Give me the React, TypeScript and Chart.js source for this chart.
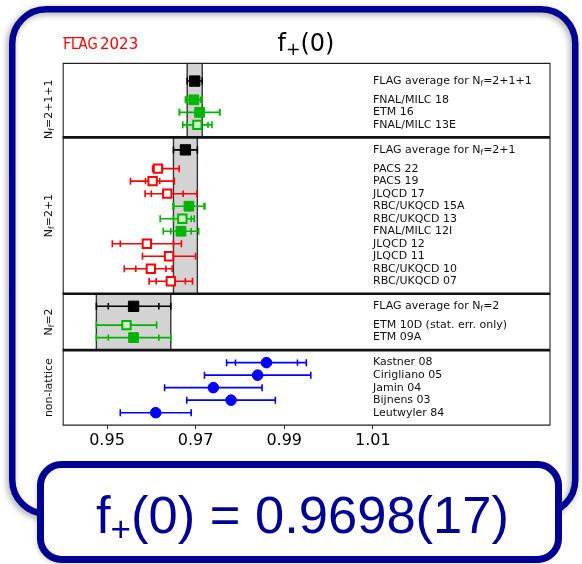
import React, { useEffect, useRef } from "react";
import { Chart, registerables } from "chart.js";
Chart.register(...registerables);

// ---------------- data ----------------
const X_MIN = 0.94;
const X_MAX = 1.05;
const X_TICKS = [0.95, 0.97, 0.99, 1.01];

const TITLE_MAIN = "f";
const TITLE_SUB = "+";
const TITLE_REST = "(0)";
const LOGO_A = "FLAG";
const LOGO_B = "2023";
const RESULT_TEXT = "(0) = 0.9698(17)";

const SECTION_LABELS = ["N_f=2+1+1", "N_f=2+1", "N_f=2", "non-lattice"];

const AVG_LABELS = ["FLAG average for N_f=2+1+1", "FLAG average for N_f=2+1", "FLAG average for N_f=2"];
const AVG_VALUES = [0.9698, 0.9677, 0.956];
const AVG_STAT = [0.0017, 0.0027, 0.0057];
const AVG_ERR = [0.0017, 0.0027, 0.0084];

const S1_LABELS = ["FNAL/MILC 18", "ETM 16", "FNAL/MILC 13E"];
const S1_VALUES = [0.9696, 0.9709, 0.9704];
const S1_STAT = [0.0015, 0.0045, 0.0024];
const S1_ERR_LO = [0.0019, 0.0046, 0.0033];
const S1_ERR_HI = [0.0019, 0.0046, 0.0033];
const S1_QUALITY = ["G", "G", "g"];

const S2_LABELS = ["PACS 22", "PACS 19", "JLQCD 17", "RBC/UKQCD 15A", "RBC/UKQCD 13", "FNAL/MILC 12I", "JLQCD 12", "JLQCD 11", "RBC/UKQCD 10", "RBC/UKQCD 07"];
const S2_VALUES = [0.9615, 0.9603, 0.9636, 0.9685, 0.967, 0.9667, 0.959, 0.964, 0.9599, 0.9644];
const S2_STAT = [0.001, 0.0016, 0.0036, 0.0034, 0.002, 0.0023, 0.006, 0.006, 0.0034, 0.0033];
const S2_ERR_LO = [0.0012, 0.005, 0.005, 0.0036, 0.005, 0.004, 0.0078, 0.006, 0.006, 0.0049];
const S2_ERR_HI = [0.0048, 0.0049, 0.0067, 0.0036, 0.0027, 0.004, 0.0078, 0.006, 0.0048, 0.0049];
const S2_QUALITY = ["R", "R", "R", "G", "g", "G", "R", "R", "R", "R"];

const S3_LABELS = ["ETM 10D (stat. err. only)", "ETM 09A"];
const S3_VALUES = [0.9544, 0.956];
const S3_STAT = [0.0068, 0.0057];
const S3_ERR_LO = [0.0068, 0.0084];
const S3_ERR_HI = [0.0068, 0.0084];
const S3_QUALITY = ["g", "G"];

const S4_LABELS = ["Kastner 08", "Cirigliano 05", "Jamin 04", "Bijnens 03", "Leutwyler 84"];
const S4_VALUES = [0.986, 0.984, 0.974, 0.978, 0.961];
const S4_STAT = [0.007, 0.012, 0.011, 0.01, 0.008];
const S4_ERR_LO = [0.009, 0.012, 0.011, 0.01, 0.008];
const S4_ERR_HI = [0.009, 0.012, 0.011, 0.01, 0.008];
const S4_QUALITY = ["B", "B", "B", "B", "B"];

const SECTIONS = [
  { labels: S1_LABELS, values: S1_VALUES, stat: S1_STAT, lo: S1_ERR_LO, hi: S1_ERR_HI, q: S1_QUALITY, avg: 0 },
  { labels: S2_LABELS, values: S2_VALUES, stat: S2_STAT, lo: S2_ERR_LO, hi: S2_ERR_HI, q: S2_QUALITY, avg: 1 },
  { labels: S3_LABELS, values: S3_VALUES, stat: S3_STAT, lo: S3_ERR_LO, hi: S3_ERR_HI, q: S3_QUALITY, avg: 2 },
  { labels: S4_LABELS, values: S4_VALUES, stat: S4_STAT, lo: S4_ERR_LO, hi: S4_ERR_HI, q: S4_QUALITY, avg: -1 },
];

// ---------------- styling ----------------
const NAVY = "#000092";
const EDGE: Record<string, string> = { K: "#000000", G: "#00b400", g: "#00b400", R: "#ff0000", B: "#0000ff" };
const FILL: Record<string, string> = { K: "#000000", G: "#00b400", g: "#ccf5cc", R: "#ffffff", B: "#0000ff" };
const FONT = '"DejaVu Sans", sans-serif';

type Row = { label: string; v: number; stat: number; lo: number; hi: number; q: string; y: number };
type Sec = { name: string; top: number; bottom: number; avg: Row | null; labelTop: number };

function buildLayout() {
  const rows: Row[] = [];
  const secs: Sec[] = [];
  let cur = 0;
  SECTIONS.forEach((s, gi) => {
    const top = cur;
    let avgRow: Row | null = null;
    let first: number;
    if (s.avg >= 0) {
      const ay = cur + (gi === 0 ? 1.45 : 1.0);
      avgRow = { label: AVG_LABELS[s.avg], v: AVG_VALUES[s.avg], stat: AVG_STAT[s.avg], lo: AVG_ERR[s.avg], hi: AVG_ERR[s.avg], q: "K", y: ay };
      rows.push(avgRow);
      first = ay + 1.5;
    } else {
      first = cur + 1.0;
    }
    s.labels.forEach((l, i) => {
      rows.push({ label: l, v: s.values[i], stat: s.stat[i], lo: s.lo[i], hi: s.hi[i], q: s.q[i], y: first + i });
    });
    const bottom = first + s.labels.length;
    secs.push({ name: SECTION_LABELS[gi], top, bottom, avg: avgRow, labelTop: gi === 0 && avgRow ? avgRow.y : top });
    cur = bottom;
  });
  return { rows, secs, total: cur };
}

function parts(text: string) {
  const i = text.indexOf("N_f");
  if (i < 0) return [{ t: text, sub: false }];
  return [
    { t: text.slice(0, i) + "N", sub: false },
    { t: "f", sub: true },
    { t: text.slice(i + 3), sub: false },
  ];
}

function drawRich(ctx: CanvasRenderingContext2D, text: string, x: number, y: number, size: number, center: boolean) {
  const ps = parts(text);
  const f = (sub: boolean) => `${sub ? size * 0.7 : size}px ${FONT}`;
  let total = 0;
  ps.forEach((p) => {
    ctx.font = f(p.sub);
    total += ctx.measureText(p.t).width;
  });
  let cx = center ? x - total / 2 : x;
  ctx.textAlign = "left";
  ctx.textBaseline = "middle";
  ps.forEach((p) => {
    ctx.font = f(p.sub);
    ctx.fillText(p.t, cx, y + (p.sub ? size * 0.25 : 0));
    cx += ctx.measureText(p.t).width;
  });
}

function makePlugin(L: ReturnType<typeof buildLayout>) {
  return {
    id: "flagDecor",
    beforeDraw(chart: any) {
      const ctx: CanvasRenderingContext2D = chart.ctx;
      ctx.save();
      ctx.fillStyle = "#ffffff";
      ctx.fillRect(0, 0, chart.width, chart.height);
      // outer rounded box
      ctx.shadowColor = "rgba(0,0,0,0.35)";
      ctx.shadowBlur = 6;
      ctx.shadowOffsetX = -2;
      ctx.shadowOffsetY = 2;
      ctx.beginPath();
      (ctx as any).roundRect(12.25, 9.25, 563, 504.5, 34);
      ctx.lineWidth = 6.5;
      ctx.strokeStyle = NAVY;
      ctx.stroke();
      ctx.restore();
    },
    beforeDatasetsDraw(chart: any) {
      const ctx: CanvasRenderingContext2D = chart.ctx;
      const x = chart.scales.x;
      const y = chart.scales.y;
      ctx.save();
      // bands
      L.secs.forEach((s) => {
        if (!s.avg) return;
        const x0 = x.getPixelForValue(s.avg.v - s.avg.lo);
        const x1 = x.getPixelForValue(s.avg.v + s.avg.hi);
        const y0 = y.getPixelForValue(s.top);
        const y1 = y.getPixelForValue(s.bottom);
        ctx.fillStyle = "#d3d3d3";
        ctx.fillRect(x0, y0, x1 - x0, y1 - y0);
        ctx.strokeStyle = "#333333";
        ctx.lineWidth = 1.4;
        ctx.beginPath();
        ctx.moveTo(x0, y0);
        ctx.lineTo(x0, y1);
        ctx.moveTo(x1, y0);
        ctx.lineTo(x1, y1);
        ctx.stroke();
      });
      // error bars
      L.rows.forEach((r) => {
        const py = y.getPixelForValue(r.y);
        const xl = x.getPixelForValue(r.v - r.lo);
        const xr = x.getPixelForValue(r.v + r.hi);
        ctx.strokeStyle = EDGE[r.q];
        ctx.lineWidth = 1.6;
        ctx.beginPath();
        ctx.moveTo(xl, py);
        ctx.lineTo(xr, py);
        ctx.moveTo(xl, py - 3.5);
        ctx.lineTo(xl, py + 3.5);
        ctx.moveTo(xr, py - 3.5);
        ctx.lineTo(xr, py + 3.5);
        if (r.stat < r.lo - 1e-6 || r.stat < r.hi - 1e-6) {
          const il = x.getPixelForValue(r.v - r.stat);
          const ir = x.getPixelForValue(r.v + r.stat);
          ctx.moveTo(il, py - 3.2);
          ctx.lineTo(il, py + 3.2);
          ctx.moveTo(ir, py - 3.2);
          ctx.lineTo(ir, py + 3.2);
        }
        ctx.stroke();
      });
      ctx.restore();
    },
    afterDraw(chart: any) {
      const ctx: CanvasRenderingContext2D = chart.ctx;
      const a = chart.chartArea;
      const y = chart.scales.y;
      ctx.save();
      // frame
      ctx.strokeStyle = "#222222";
      ctx.lineWidth = 1.1;
      ctx.beginPath();
      ctx.moveTo(a.left + 0.5, a.top);
      ctx.lineTo(a.left + 0.5, a.bottom);
      ctx.moveTo(a.right, a.top);
      ctx.lineTo(a.right, a.bottom);
      ctx.moveTo(a.left, a.top + 0.5);
      ctx.lineTo(a.right, a.top + 0.5);
      ctx.stroke();
      ctx.lineWidth = 1.3;
      ctx.beginPath();
      ctx.moveTo(a.left, a.bottom);
      ctx.lineTo(a.right, a.bottom);
      ctx.stroke();
      ctx.strokeStyle = "#111111";
      L.secs.slice(0, -1).forEach((s) => {
        const py = y.getPixelForValue(s.bottom);
        ctx.lineWidth = 2.6;
        ctx.beginPath();
        ctx.moveTo(a.left, py);
        ctx.lineTo(a.right, py);
        ctx.stroke();
      });
      // row labels
      ctx.fillStyle = "#111111";
      L.rows.forEach((r) => {
        drawRich(ctx, r.label, a.left + 310.3, y.getPixelForValue(r.y), 11, false);
      });
      // section labels (rotated)
      L.secs.forEach((s) => {
        const cy = y.getPixelForValue((s.labelTop + s.bottom) / 2);
        ctx.save();
        ctx.translate(a.left - 13.5, cy);
        ctx.rotate(-Math.PI / 2);
        drawRich(ctx, s.name, 0, 0, 11, true);
        ctx.restore();
      });
      // title
      ctx.fillStyle = "#000000";
      ctx.textBaseline = "alphabetic";
      ctx.textAlign = "left";
      const ts = 24;
      ctx.font = `${ts}px ${FONT}`;
      const w1 = ctx.measureText(TITLE_MAIN).width;
      const w3 = ctx.measureText(TITLE_REST).width;
      ctx.font = `${ts * 0.72}px ${FONT}`;
      const w2 = ctx.measureText(TITLE_SUB).width;
      let tx = 306 - (w1 + w2 + w3) / 2;
      const tb = 51;
      ctx.font = `${ts}px ${FONT}`;
      ctx.fillText(TITLE_MAIN, tx, tb);
      tx += w1;
      ctx.font = `${ts * 0.72}px ${FONT}`;
      ctx.fillText(TITLE_SUB, tx, tb + 4);
      tx += w2;
      ctx.font = `${ts}px ${FONT}`;
      ctx.fillText(TITLE_REST, tx, tb);
      // FLAG logo
      ctx.fillStyle = "#ff0000";
      ctx.font = `15px ${FONT}`;
      const lw = ctx.measureText(LOGO_A).width;
      ctx.save();
      ctx.translate(63.3, 49.3);
      ctx.scale(34.4 / lw, 1);
      ctx.fillText(LOGO_A, 0, 0);
      ctx.restore();
      ctx.fillText(LOGO_B, 100, 49.3);
      ctx.strokeStyle = "#ff0000";
      ctx.lineWidth = 1.2;
      ctx.beginPath();
      ctx.moveTo(63.3, 37.6);
      ctx.lineTo(83, 37.6);
      ctx.stroke();
      // result box
      ctx.save();
      ctx.shadowColor = "rgba(0,0,0,0.35)";
      ctx.shadowBlur = 6;
      ctx.shadowOffsetX = -2;
      ctx.shadowOffsetY = 2;
      ctx.beginPath();
      (ctx as any).roundRect(40.5, 464.5, 518, 95, 21);
      ctx.fillStyle = "#ffffff";
      ctx.fill();
      ctx.restore();
      ctx.beginPath();
      (ctx as any).roundRect(40.5, 464.5, 518, 95, 21);
      ctx.lineWidth = 7;
      ctx.strokeStyle = NAVY;
      ctx.stroke();
      ctx.fillStyle = NAVY;
      const rs = 52.5;
      const rb = 532.5;
      let rx = 96;
      ctx.font = `${rs}px "Liberation Sans", Arial, sans-serif`;
      ctx.fillText(TITLE_MAIN, rx, rb);
      rx += ctx.measureText(TITLE_MAIN).width;
      ctx.font = `35px "Liberation Sans", Arial, sans-serif`;
      ctx.fillText(TITLE_SUB, rx, rb + 8);
      rx += ctx.measureText(TITLE_SUB).width;
      ctx.font = `${rs}px "Liberation Sans", Arial, sans-serif`;
      ctx.fillText(RESULT_TEXT, rx, rb);
      ctx.restore();
    },
  };
}

export default function App() {
  const ref = useRef<HTMLCanvasElement>(null);
  useEffect(() => {
    const canvas = ref.current;
    if (!canvas) return;
    const L = buildLayout();
    const radius = (q: string) => (q === "B" ? 5.3 : q === "K" ? 7.3 : q === "G" ? 6.9 : 5.9);
    const chart = new Chart(canvas, {
      type: "scatter",
      data: {
        datasets: [
          {
            data: L.rows.map((r) => ({ x: r.v, y: r.y })),
            pointStyle: (c: any) => (L.rows[c.dataIndex]?.q === "B" ? "circle" : "rect"),
            pointRadius: (c: any) => radius(L.rows[c.dataIndex]?.q ?? "K"),
            pointBackgroundColor: (c: any) => FILL[L.rows[c.dataIndex]?.q ?? "K"],
            pointBorderColor: (c: any) => EDGE[L.rows[c.dataIndex]?.q ?? "K"],
            pointBorderWidth: (c: any) => {
              const q = L.rows[c.dataIndex]?.q ?? "K";
              return q === "R" || q === "g" ? 2 : 1;
            },
            showLine: false,
          } as any,
        ],
      },
      options: {
        responsive: false,
        devicePixelRatio: 1,
        animation: false,
        events: [],
        layout: { padding: { left: 62.7, top: 62.9, right: 32, bottom: 0 } },
        plugins: { legend: { display: false }, tooltip: { enabled: false }, title: { display: false } },
        scales: {
          x: {
            type: "linear",
            min: X_MIN,
            max: X_MAX,
            afterBuildTicks: (s: any) => {
              s.ticks = X_TICKS.map((v) => ({ value: v }));
            },
            afterFit: (s: any) => {
              s.height = 564 - 425.2;
            },
            grid: { display: true, drawOnChartArea: false, drawTicks: true, tickLength: 4, color: "#333333", lineWidth: 1 },
            border: { display: false },
            ticks: {
              padding: 2,
              color: "#000000",
              font: { family: "DejaVu Sans", size: 16 },
              callback: (v: any) => Number(v).toFixed(2),
              autoSkip: false,
              maxRotation: 0,
            },
          },
          y: { type: "linear", display: false, min: 0, max: L.total, reverse: true },
        },
      },
      plugins: [makePlugin(L) as any],
    });
    return () => chart.destroy();
  }, []);
  return (
    <div style={{ position: "absolute", left: 0, top: 0, width: 582, height: 564, background: "#ffffff" }}>
      <canvas ref={ref} width={582} height={564} style={{ display: "block", width: 582, height: 564 }} />
    </div>
  );
}
